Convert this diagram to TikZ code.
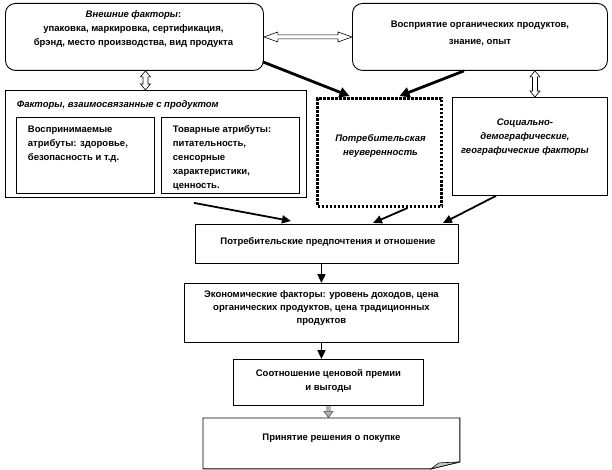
\documentclass[tikz,border=0pt]{standalone}
\usepackage{fontspec}
\setmainfont{Liberation Sans}
\usetikzlibrary{arrows.meta, positioning, calc}

\tikzset{
  rbox/.style={draw, rounded corners=10, line width=0.9, anchor=north west, inner sep=0},
  pbox/.style={draw, line width=0.9, anchor=north west, inner sep=0},
  dotbox/.style={line width=3, dash pattern=on 2.4 off 1.6},
  txt/.style={inner sep=0.75pt, align=center, font=\bfseries\fontsize{9.5}{14}\selectfont},
  fat/.style={line width=2.8, -{Triangle[length=10,width=10]}},
  arr/.style={line width=1.8, -{Triangle[length=9,width=8]}},
  hollow/.style={draw, line width=0.6, fill=white},
}

\begin{document}
\begin{tikzpicture}[x=1pt,y=1pt,yscale=-1,xscale=1]
\useasboundingbox (0,0) rectangle (612,470);

%Shape: Rounded boxes at top
\node[rbox, minimum width=258, minimum height=67] (ext) at (5,3) {};
\node[rbox, minimum width=255, minimum height=67] (perc) at (352,3) {};
%Shape: product factors with two inner boxes
\node[pbox, minimum width=301, minimum height=107] (prod) at (5,90) {};
\node[pbox, minimum width=138, minimum height=76] (attr) at (16,117) {};
\node[pbox, minimum width=138, minimum height=76] (goods) at (161,117) {};
%Shape: uncertainty and socio-demographic
\node[pbox, dotbox, minimum width=124, minimum height=108] (unc) at (316,97) {};
\node[pbox, minimum width=155, minimum height=98] (soc) at (452,97) {};
%Shape: chain of boxes
\node[pbox, minimum width=263, minimum height=39] (pref) at (195,224) {};
\node[pbox, minimum width=274, minimum height=59] (econ) at (184,283) {};
\node[pbox, minimum width=190, minimum height=46] (ratio) at (233,359) {};
\node[pbox, draw=none, minimum width=256, minimum height=50] (dec) at (203,418) {};
\draw[line width=0.9] (dec.north west) -- (dec.north east) -- ($(dec.south east)+(0,-7)$)
  -- ($(dec.south east)+(-29,0)$) -- (dec.south west) -- cycle;
\draw[line width=0.6, fill=gray!45] ($(dec.south east)+(-29,0)$) -- ($(dec.south east)+(-21,-6)$)
  -- ($(dec.south east)+(0,-7)$) -- cycle;

% Text Node
\node[txt] (extT) at ($(ext.north)+(-1,26.5)$) {\textit{Внешние факторы}:\\упаковка, маркировка, сертификация,\\брэнд, место производства, вид продукта};
% Text Node
\node[txt, font=\bfseries\fontsize{9.5}{17}\selectfont] (percT) at ($(perc.north)+(0,30.5)$) {Восприятие органических продуктов,\\знание, опыт};
% Text Node
\node[txt, anchor=west, font=\bfseries\itshape\fontsize{9.5}{14}\selectfont] (prodT) at ($(prod.north west)+(11,15)$) {Факторы, взаимосвязанные с продуктом};
% Text Node
\node[txt, align=left, anchor=west] (attrT) at ($(attr.west)+(11,-11)$) {Воспринимаемые\\атрибуты: здоровье,\\безопасность и т.д.};
% Text Node
\node[txt, align=left, anchor=west] (goodsT) at ($(goods.west)+(11,3)$) {Товарные атрибуты:\\питательность,\\сенсорные\\характеристики,\\ценность.};
% Text Node
\node[txt, font=\bfseries\itshape\fontsize{9.5}{14}\selectfont] (uncT) at ($(unc.center)+(1,-6)$) {Потребительская\\неуверенность};
% Text Node
\node[txt, font=\bfseries\itshape\fontsize{9.5}{14}\selectfont] (socT) at ($(soc.center)+(-5,-9)$) {Социально-\\демографические,\\географические факторы};
% Text Node
\node[txt] (prefT) at ($(pref.center)+(1,-1.5)$) {Потребительские предпочтения и отношение};
% Text Node
\node[txt, font=\bfseries\fontsize{9.5}{13}\selectfont] (econT) at ($(econ.center)+(0,-5)$) {Экономические факторы: уровень доходов, цена\\органических продуктов, цена традиционных\\продуктов};
% Text Node
\node[txt] (ratioT) at ($(ratio.center)+(0,-2)$) {Соотношение ценовой премии\\и выгоды};
% Text Node
\node[txt] (decT) at ($(dec.center)+(0,-5)$) {Принятие решения о покупке};

%Hollow double arrows
\draw[hollow] (ext.east) -- ++(14,-5) -- ++(0,3) -- ($(perc.west)+(-14,-2)$) -- ++(0,-3) -- (perc.west)
  -- ++(-14,5) -- ++(0,-3) -- ($(ext.east)+(14,2)$) -- ++(0,3) -- cycle;
\coordinate (v1) at ($(ext.south)+(11,0)$);
\draw[hollow] (v1) -- ++(-5,6) -- ++(2.5,0) -- ($(v1 |- prod.north)+(-2.5,-6)$) -- ++(-2.5,0) -- (v1 |- prod.north)
  -- ++(5,-6) -- ++(-2.5,0) -- ($(v1)+(2.5,6)$) -- ++(2.5,0) -- cycle;
\coordinate (v2) at ($(soc.north)+(5,0)$);
\draw[hollow] (v2 |- perc.south) -- ++(-5,6) -- ++(2.5,0) -- ($(v2)+(-2.5,-6)$) -- ++(-2.5,0) -- (v2)
  -- ++(5,-6) -- ++(-2.5,0) -- ($(v2 |- perc.south)+(2.5,6)$) -- ++(2.5,0) -- cycle;

%Thick arrows to uncertainty
\draw[fat] ($(ext.south east)+(-1,-9)$) -- ($(unc.north)+(-30,-1)$);
\draw[fat] ($(perc.south)+(-16,0)$) -- ($(unc.north)+(20,-1)$);

%Arrows to preferences
\coordinate (p1) at ($(prod.south)+(38,5)$);
\draw[arr] (p1) -- ($(pref.north)+(-36,-3)$);
\draw[arr] ($(unc.south)+(28,0)$) -- ($(pref.north)+(46,-1)$);
\draw[arr] ($(soc.south)+(-34,0)$) -- ($(pref.north)+(116,-1)$);

%Vertical chain
\draw[arr] (pref.south -| econ.center) -- (econ.north);
\draw[arr] (econ.south) -- (econ.south |- ratio.north);
\draw[line width=4.5, draw=gray!60, -{Triangle[length=7pt,width=10pt,color=black!70,fill=gray!60,line width=0.6pt]}] (ratio.south) -- (ratio.south |- dec.north);

\end{tikzpicture}
\end{document}
